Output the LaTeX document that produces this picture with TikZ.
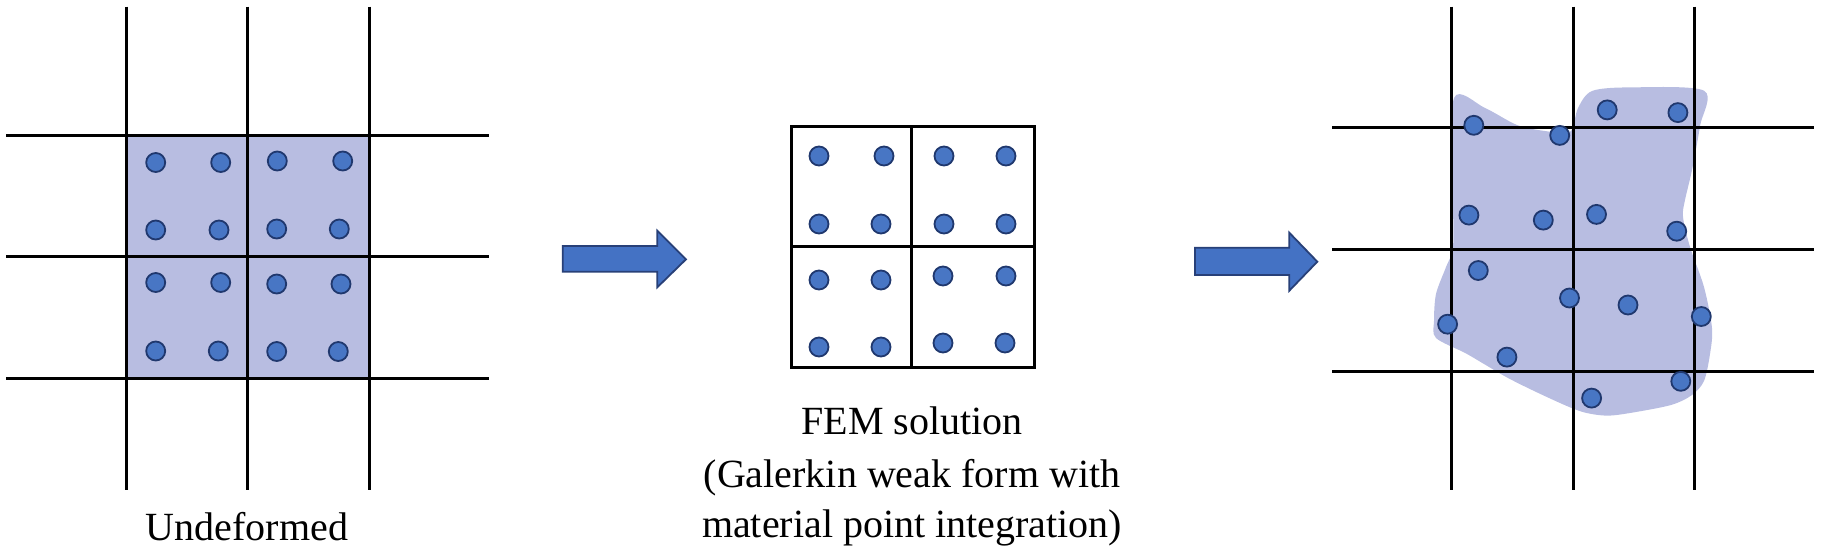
\documentclass[tikz,border=0pt]{standalone}
\usepackage{fontspec}
\setmainfont{Liberation Serif}
\definecolor{matcol}{RGB}{184,189,225}
\definecolor{dotfill}{RGB}{72,118,196}
\definecolor{dotedge}{RGB}{32,56,110}
\definecolor{arrowfill}{RGB}{68,114,196}
\definecolor{arrowedge}{RGB}{40,64,120}
\tikzset{
  gridline/.style={line width=3pt, black},
  matregion/.style={fill=matcol},
  mp/.style={circle, fill=dotfill, draw=dotedge, line width=1.8pt, minimum size=19pt, inner sep=0pt},
  bigarrow/.style={fill=arrowfill, draw=arrowedge, line width=1.8pt, line join=miter},
  caption/.style={font=\fontsize{40}{52}\selectfont, anchor=base, inner sep=0pt}
}
\begin{document}
\begin{tikzpicture}[x=1pt,y=-1pt]
\useasboundingbox (0,0) rectangle (1821,549);
% ---------- left panel: undeformed ----------
\path[matregion] (126,135) rectangle (369,378);
\foreach \x in {126,247.5,369} \draw[gridline] (\x,6.7) -- (\x,490);
\foreach \y in {135,256.5,378} \draw[gridline] (6,\y) -- (489,\y);
\foreach \x/\y [count=\i] in {155.7/162.5,220.7/162.5,277.3/161,342.7/161,
  155.7/230,219/230,276.7/229,339.3/229,
  155.7/282.5,220.7/282.5,276.7/284,341/284,
  155.7/351,218.3/351,276.7/351.5,338.3/351.5}
  \node[mp] (L\i) at (\x,\y) {};
\node[caption] (undef) at (247,540) {Undeformed};
% ---------- arrow 1 ----------
\draw[bigarrow] (562.7,246) -- (657.3,246) -- (657.3,230.7) -- (686,259.3)
  -- (657.3,287.3) -- (657.3,271.7) -- (562.7,271.7) -- cycle;
% ---------- middle panel: FEM ----------
\draw[gridline] (791,126) rectangle (1034,367);
\draw[gridline] (911.7,126) -- (911.7,367);
\draw[gridline] (791,246.7) -- (1034,246.7);
\foreach \x/\y [count=\i] in {819/156,884/156,944/156,1006/156,
  819/224,881/224,944/224,1006/224,
  819/280,881/280,943/276,1006/276,
  819/347,881/347,943/343,1005/343}
  \node[mp] (M\i) at (\x,\y) {};
\node[caption] (fem1) at (912,434) {FEM solution};
\node[caption] (fem2) at (912,487) {(Galerkin weak form with};
\node[caption] (fem3) at (912,537) {material point integration)};
% ---------- arrow 2 ----------
\draw[bigarrow] (1195,247.7) -- (1289.3,247.7) -- (1289.3,232.7) -- (1317.3,261.7)
  -- (1289.3,290.7) -- (1289.3,275) -- (1195,275) -- cycle;
% ---------- right panel: deformed ----------
\path[matregion] plot[smooth cycle, tension=0.5] coordinates {
  (1454,98) (1485,108) (1517,125) (1545,131) (1570,132) (1578,108) (1592,91)
  (1630,87.4) (1704,90.7) (1700,126) (1692,170) (1685,200) (1683,217)
  (1690,247) (1704,287) (1712,328) (1710,354) (1704,381) (1692,395)
  (1671,405) (1630,413) (1606,415.6) (1581,411.5) (1549,398) (1508,378)
  (1467,354) (1436,338) (1434,321) (1436,294) (1446,267) (1453,247) (1453,193)};
\foreach \x in {1451.7,1573,1694.7} \draw[gridline] (\x,6.7) -- (\x,490);
\foreach \y in {127.7,249.3,371} \draw[gridline] (1332,\y) -- (1814,\y);
\foreach \x/\y [count=\i] in {1473.8/125.3,1559.7/135.4,1607.2/109.9,1677.9/112.6,
  1468.9/215.1,1543.3/220.1,1596.5/214.4,1676.7/231.2,
  1478.3/270.5,1569.5/298,1628/305,1701.3/316.5,
  1447.6/324.2,1506.9/357.1,1680.8/381.3,1591.6/398.1}
  \node[mp] (R\i) at (\x,\y) {};
\end{tikzpicture}
\end{document}
